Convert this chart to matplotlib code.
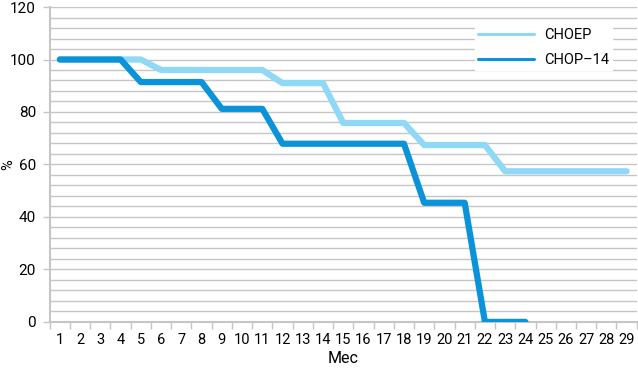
import matplotlib.pyplot as plt
import matplotlib as mpl
import numpy as np

mpl.rcParams['font.family'] = ['Roboto', 'DejaVu Sans']
mpl.rcParams['axes.unicode_minus'] = False

# данные
months = list(range(1, 30))
choep = [100, 100, 100, 100, 100, 96, 96, 96, 96, 96, 96, 91, 91, 91,
         75.8, 75.8, 75.8, 75.8, 67.4, 67.4, 67.4, 67.4,
         57.4, 57.4, 57.4, 57.4, 57.4, 57.4, 57.4]
chop14_months = list(range(1, 25))
chop14 = [100, 100, 100, 100, 91.4, 91.4, 91.4, 91.4, 81.2, 81.2, 81.2,
          67.9, 67.9, 67.9, 67.9, 67.9, 67.9, 67.9, 45.4, 45.4, 45.4, 0, 0, 0]

light = '#8fd8f6'
dark = '#0a93d9'
grid_c = '#c6c6c6'

fig = plt.figure(figsize=(6.38, 3.70), dpi=100)
ax = fig.add_axes([0.078, 0.130, 0.920, 0.851])

# сетка каждые 4 единицы
for v in np.arange(4, 121, 4):
    ax.axhline(v, color=grid_c, linewidth=1.0, zorder=1)

ax.plot(months, choep, color=light, linewidth=4.5, solid_capstyle='round',
        solid_joinstyle='round', label='CHOEP', zorder=3)
ax.plot(chop14_months, chop14, color=dark, linewidth=4.5, solid_capstyle='round',
        solid_joinstyle='round', label='CHOP\u201314', zorder=4)

ax.set_xlim(0.5, 29.5)
ax.set_ylim(0, 120)

# ось x: деления между категориями, подписи по центру
ax.set_xticks(np.arange(0.5, 30, 1))
ax.set_xticklabels([])
ax.set_xticks(months, minor=True)
ax.set_xticklabels([str(m) for m in months], minor=True, fontsize=10.5)
ax.tick_params(axis='x', which='major', length=5, color=grid_c, width=1)
ax.tick_params(axis='x', which='minor', length=0, pad=8)

ax.set_yticks(np.arange(0, 121, 20))
ax.set_yticklabels([str(v) for v in range(0, 121, 20)], fontsize=11)
ax.tick_params(axis='y', length=5, color=grid_c, width=1, pad=5)

for s in ['top', 'right']:
    ax.spines[s].set_visible(False)
for s in ['left', 'bottom']:
    ax.spines[s].set_color(grid_c)
    ax.spines[s].set_linewidth(1.5)

ax.set_xlabel('Мес', fontsize=11.5, labelpad=3)
ax.set_ylabel('%', fontsize=10.5)
ax.yaxis.set_label_coords(-0.058, 0.5)

leg = ax.legend(loc='upper right', bbox_to_anchor=(0.97, 0.965), frameon=True,
                fontsize=10.5, handlelength=3.8, handletextpad=0.7,
                labelspacing=0.75, borderpad=0.2, fancybox=False)
leg.get_frame().set_edgecolor('white')
leg.get_frame().set_facecolor('white')
leg.get_frame().set_alpha(1)
for line in leg.get_lines():
    line.set_linewidth(2.2)

plt.savefig('out.png', dpi=100)
